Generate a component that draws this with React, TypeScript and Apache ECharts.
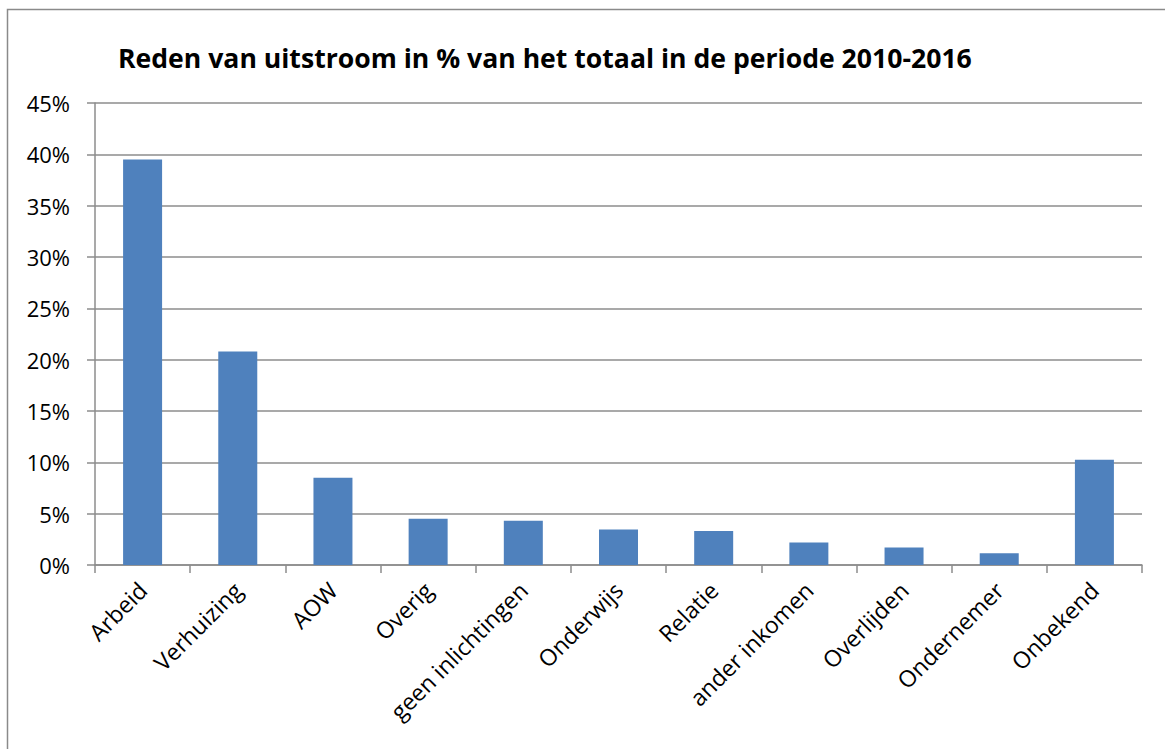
import React, { useEffect, useRef } from "react";
import * as echarts from "echarts";

const categories = [
  "Arbeid",
  "Verhuizing",
  "AOW",
  "Overig",
  "geen inlichtingen",
  "Onderwijs",
  "Relatie",
  "ander inkomen",
  "Overlijden",
  "Ondernemer",
  "Onbekend",
];
const values = [39.5, 20.8, 8.5, 4.5, 4.3, 3.45, 3.3, 2.2, 1.7, 1.15, 10.25];
const titleText = "Reden van uitstroom in % van het totaal in de periode 2010-2016";

export default function App() {
  const ref = useRef<HTMLDivElement>(null);
  useEffect(() => {
    document.body.style.margin = "0";
    const chart = echarts.init(ref.current!, null, { renderer: "svg" });
    const font = "'Open Sans', sans-serif";
    chart.setOption({
      animation: false,
      backgroundColor: "#ffffff",
      title: {
        text: titleText,
        left: 113,
        top: 39,
        textStyle: { fontFamily: font, fontWeight: "bold", fontSize: 26.6, color: "#000" },
      },
      graphic: [
        {
          type: "rect",
          shape: { x: 7.5, y: 9.5, width: 1200, height: 800 },
          style: { fill: "none", stroke: "#8a8a8a", lineWidth: 1.5 },
          silent: true,
        },
      ],
      grid: { left: 95, right: 23, top: 103, bottom: 184, containLabel: false },
      xAxis: {
        type: "category",
        data: categories,
        axisLine: { show: true, lineStyle: { color: "#8c8c8c", width: 1.5 } },
        axisTick: { show: true, alignWithLabel: false, length: 8, lineStyle: { color: "#8c8c8c", width: 1.5 } },
        axisLabel: {
          rotate: 45,
          interval: 0,
          fontFamily: font,
          fontSize: 23,
          color: "#000",
          margin: 21,
        },
      },
      yAxis: {
        type: "value",
        min: 0,
        max: 45,
        interval: 5,
        axisLine: { show: true, lineStyle: { color: "#8c8c8c", width: 1.5 } },
        axisTick: { show: true, length: 8, lineStyle: { color: "#8c8c8c", width: 1.5 } },
        splitLine: { show: true, lineStyle: { color: "#8c8c8c", width: 1.5 } },
        axisLabel: {
          formatter: (v: number) => v + "%",
          fontFamily: font,
          fontSize: 22,
          color: "#000",
          margin: 25,
        },
      },
      series: [
        {
          type: "bar",
          data: values,
          barWidth: 39,
          itemStyle: { color: "#4f81bd" },
        },
      ],
    });
    return () => chart.dispose();
  }, []);
  return (
    <div
      ref={ref}
      style={{ position: "fixed", left: 0, top: 0, width: 1165, height: 749 }}
    />
  );
}
